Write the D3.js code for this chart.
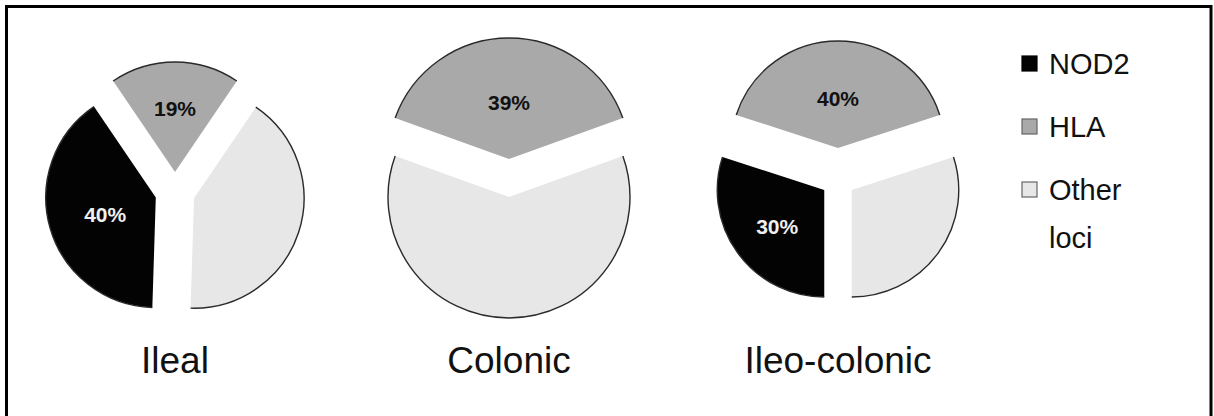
<!DOCTYPE html>
<html>
<head>
<meta charset="utf-8">
<script src="https://cdn.jsdelivr.net/npm/d3@7"></script>
<style>
  html, body { margin: 0; padding: 0; background: #fff; }
  svg { display: block; }
  text { font-family: "Liberation Sans", Arial, Helvetica, sans-serif; }
</style>
</head>
<body>
<svg id="chart" width="1214" height="416"></svg>
<script>
// ---- data ----
const categories = ["NOD2", "HLA", "Other loci"];
const panels = ["Ileal", "Colonic", "Ileo-colonic"];
const ilealValues = [40, 19, 41];
const colonicValues = [0, 39, 61];
const ileoColonicValues = [30, 40, 30];
const legendLabels = [["NOD2"], ["HLA"], ["Other", "loci"]];
const labelledCategories = ["NOD2", "HLA"];

// ---- layout / style ----
const seriesValues = [ilealValues, colonicValues, ileoColonicValues];
const layout = [
  { cx: 175, cy: 192, r: 110, explode: [20, 20, 20] },
  { cx: 509, cy: 178, r: 121, explode: [19, 19, 19] },
  { cx: 838, cy: 180, r: 107, explode: [17, 32, 17] }
];
const color = d3.scaleOrdinal().domain(categories).range(["#030303", "#a9a9a9", "#e7e7e7"]);
const labelColor = d3.scaleOrdinal().domain(categories).range(["#f0f0f0", "#111", "#111"]);

const svg = d3.select("#chart");
svg.append("rect").attr("width", 1214).attr("height", 416).attr("fill", "#fff");

// frame
svg.append("path")
  .attr("d", "M6.5,420 V6.5 H1211 V420")
  .attr("fill", "none").attr("stroke", "#000").attr("stroke-width", 3);

panels.forEach((name, i) => {
  const vals = seriesValues[i];
  const L = layout[i];
  const total = d3.sum(vals);
  // HLA slice is centred at 12 o'clock
  const start = -((vals[0] + vals[1] / 2) / total) * 2 * Math.PI;
  const pie = d3.pie().sort(null).value(d => d.v)
    .startAngle(start).endAngle(start + 2 * Math.PI);
  const arcs = pie(vals.map((v, k) => ({ v, cat: categories[k], k })));
  const arcGen = d3.arc().innerRadius(0).outerRadius(L.r);

  const g = svg.append("g");
  arcs.filter(a => a.data.v > 0).forEach(a => {
    const mid = (a.startAngle + a.endAngle) / 2;
    const alpha = a.endAngle - a.startAngle;
    const e = L.explode[a.data.k];
    const ox = L.cx + Math.sin(mid) * e;
    const oy = L.cy - Math.cos(mid) * e;
    const sg = g.append("g").attr("transform", `translate(${ox},${oy})`);
    sg.append("path").attr("d", arcGen(a)).attr("fill", color(a.data.cat));
    // outline only along the rim
    const p = d3.path();
    p.arc(0, 0, L.r, a.startAngle - Math.PI / 2, a.endAngle - Math.PI / 2);
    sg.append("path").attr("d", p.toString())
      .attr("fill", "none").attr("stroke", "#2a2a2a").attr("stroke-width", 1.4);
    if (labelledCategories.includes(a.data.cat)) {
      // area centroid of the sector
      const lr = 0.95 * 4 * L.r * Math.sin(alpha / 2) / (3 * alpha);
      sg.append("text")
        .attr("x", Math.sin(mid) * lr)
        .attr("y", -Math.cos(mid) * lr + 2)
        .attr("text-anchor", "middle")
        .attr("dominant-baseline", "central")
        .attr("font-size", 21).attr("font-weight", "bold")
        .attr("fill", labelColor(a.data.cat))
        .text(a.data.v + "%");
    }
  });

  svg.append("text")
    .attr("x", L.cx).attr("y", 373)
    .attr("text-anchor", "middle")
    .attr("font-size", 37).attr("fill", "#111")
    .text(name);
});

// legend
const legendY = d3.scalePoint().domain(categories).range([64, 190]);
categories.forEach((c, i) => {
  const y = legendY(c);
  svg.append("rect")
    .attr("x", 1022).attr("y", y - 8).attr("width", 15).attr("height", 15)
    .attr("fill", color(c))
    .attr("stroke", i === 0 ? "#000" : "#666").attr("stroke-width", 1.2);
  const t = svg.append("text")
    .attr("x", 1049).attr("y", y)
    .attr("font-size", 29).attr("fill", "#111")
    .attr("dominant-baseline", "central");
  legendLabels[i].forEach((line, j) => {
    t.append("tspan").attr("x", 1049).attr("dy", j === 0 ? 0 : 48).text(line);
  });
});
</script>
</body>
</html>
